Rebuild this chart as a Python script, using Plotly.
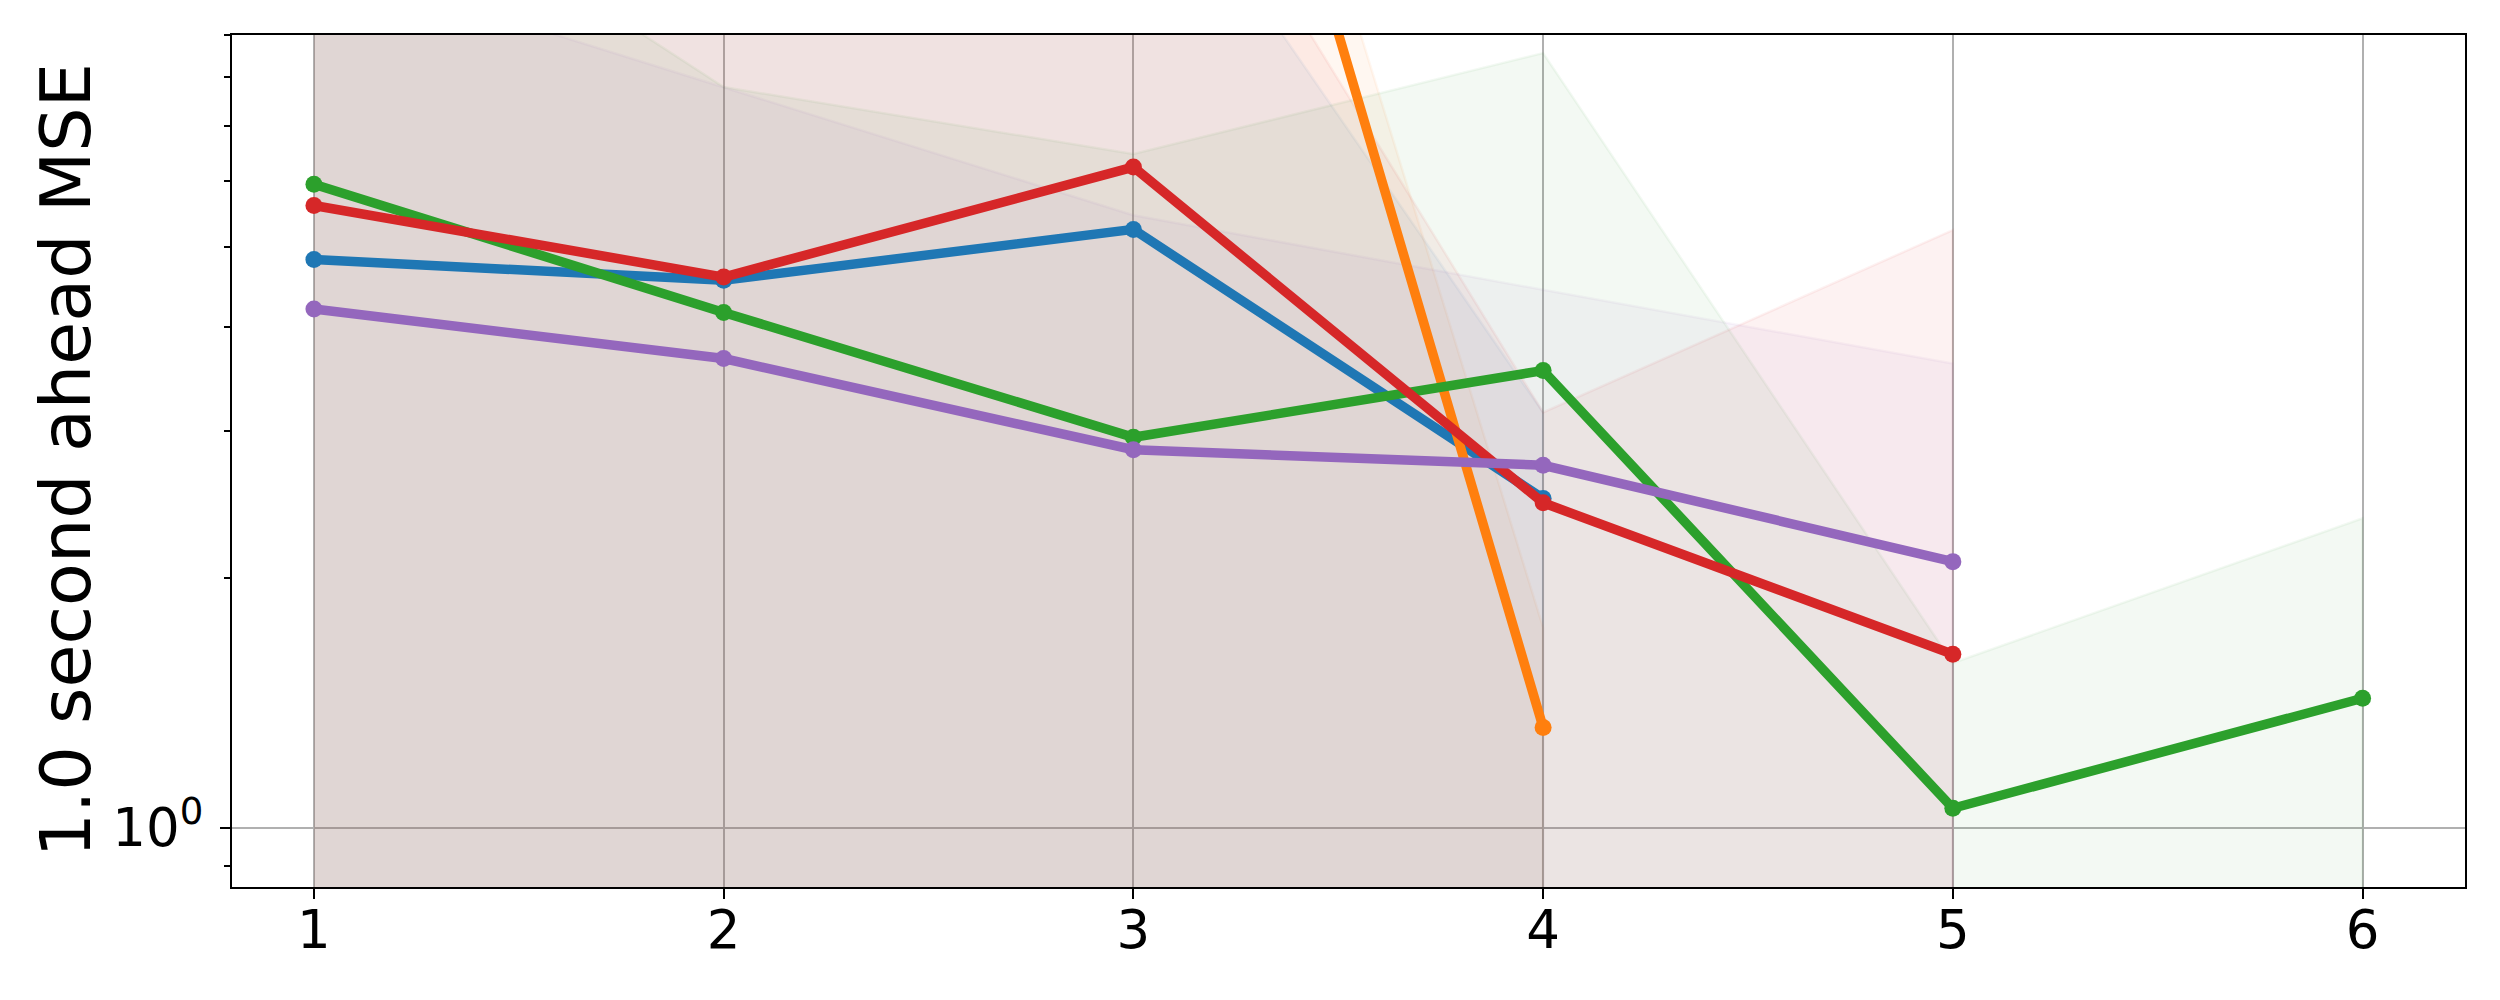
import plotly.graph_objects as go

# ---------------- data ----------------
x_steps = [1, 2, 3, 4, 5, 6]

blue_mean = [4.83, 4.56, 5.25, 2.49]
blue_upper = [15.0, 14.0, 16.4, 3.16]
blue_lower = [0.5, 0.5, 0.5, 0.5]

orange_mean = [200.0, 120.0, 62.0, 1.32]
orange_upper = [400.0, 250.0, 70.0, 1.74]
orange_lower = [0.5, 0.5, 0.5, 0.5]

green_mean = [5.95, 4.17, 2.95, 3.55, 1.055, 1.431]
green_upper = [16.3, 7.79, 6.47, 8.56, 1.578, 2.357]
green_lower = [0.5, 0.5, 0.5, 0.5, 0.5, 0.5]

red_mean = [5.61, 4.60, 6.24, 2.46, 1.617]
red_upper = [18.0, 15.0, 20.0, 3.16, 5.24]
red_lower = [0.5, 0.5, 0.5, 0.5, 0.5]

purple_mean = [4.21, 3.67, 2.85, 2.73, 2.09]
purple_upper = [11.1, 7.79, 5.46, 4.44, 3.62]
purple_lower = [0.5, 0.5, 0.5, 0.5, 0.5]

x_tick_vals = [1, 2, 3, 4, 5, 6]
x_tick_text = ["1", "2", "3", "4", "5", "6"]
y_major_vals = [1]
y_major_text = ["10<sup>0</sup>"]
y_minor_vals = [0.9, 2, 3, 4, 5, 6, 7, 8, 9]
y_title = "1.0 second ahead MSE"

series = [
    ("#1f77b4", (31, 119, 180), blue_mean, blue_upper, blue_lower),
    ("#ff7f0e", (255, 127, 14), orange_mean, orange_upper, orange_lower),
    ("#2ca02c", (44, 160, 44), green_mean, green_upper, green_lower),
    ("#d62728", (214, 39, 40), red_mean, red_upper, red_lower),
    ("#9467bd", (148, 103, 189), purple_mean, purple_upper, purple_lower),
]

FILL_ALPHA = 0.058

fig = go.Figure()

# bands first (matplotlib draws PolyCollections below lines)
for col, rgb, mean, up, lo in series:
    xs = x_steps[:len(mean)]
    rgba = "rgba(%d,%d,%d,%.3f)" % (rgb[0], rgb[1], rgb[2], FILL_ALPHA)
    fig.add_trace(go.Scatter(
        x=xs + xs[::-1],
        y=up + lo[::-1],
        fill="toself",
        fillcolor=rgba,
        mode="lines",
        line=dict(color=rgba, width=2.5),
        hoverinfo="skip",
        showlegend=False,
    ))

for col, rgb, mean, up, lo in series:
    xs = x_steps[:len(mean)]
    fig.add_trace(go.Scatter(
        x=xs,
        y=mean,
        mode="lines+markers",
        line=dict(color=col, width=9.5),
        marker=dict(color=col, size=17, line=dict(width=0)),
        showlegend=False,
    ))

PLOT_L, PLOT_R, PLOT_T, PLOT_B = 232, 2465, 35, 887
W, H = 2500, 1000

fig.update_layout(
    width=W,
    height=H,
    margin=dict(l=PLOT_L, r=W - PLOT_R, t=PLOT_T, b=H - PLOT_B, pad=0),
    paper_bgcolor="white",
    plot_bgcolor="white",
    font=dict(family="DejaVu Sans", color="black", size=53),
    showlegend=False,
)

fig.update_xaxes(
    range=[0.8, 6.25],
    tickmode="array",
    tickvals=x_tick_vals,
    ticktext=x_tick_text,
    ticks="outside",
    ticklen=10,
    tickwidth=2.2,
    tickcolor="black",
    tickfont=dict(family="DejaVu Sans", size=53, color="black"),
    showgrid=True,
    gridcolor="#b0b0b0",
    gridwidth=2.2,
    showline=True,
    linecolor="black",
    linewidth=2.2,
    mirror=True,
    zeroline=False,
    ticklabelstandoff=-15,
)

fig.update_yaxes(
    type="log",
    range=[-0.0716, 0.9542],
    tickmode="array",
    tickvals=y_major_vals,
    ticktext=y_major_text,
    ticks="outside",
    ticklen=10,
    tickwidth=2.2,
    tickcolor="black",
    tickfont=dict(family="DejaVu Sans", size=53, color="black"),
    showgrid=True,
    gridcolor="#b0b0b0",
    gridwidth=2.2,
    minor=dict(
        tickmode="array",
        tickvals=y_minor_vals,
        ticks="outside",
        ticklen=6,
        tickwidth=1.7,
        tickcolor="black",
        showgrid=False,
    ),
    showline=True,
    linecolor="black",
    linewidth=2.2,
    mirror=True,
    zeroline=False,
    ticklabelstandoff=6,
)

fig.add_annotation(
    text=y_title,
    xref="paper", yref="paper",
    x=(65.5 - PLOT_L) / (PLOT_R - PLOT_L),
    y=0.5,
    xanchor="center", yanchor="middle",
    textangle=-90,
    showarrow=False,
    font=dict(family="DejaVu Sans", size=70, color="black"),
)

fig.write_html("out.html", config={"displayModeBar": False})

with open("out.html", "r", encoding="utf-8") as f:
    html = f.read()
html = html.replace("<body>", '<body style="margin:0;padding:0;">', 1)
with open("out.html", "w", encoding="utf-8") as f:
    f.write(html)
